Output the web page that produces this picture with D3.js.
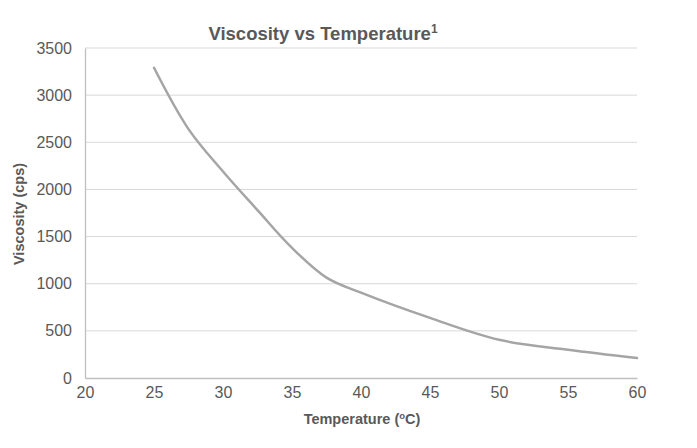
<!DOCTYPE html>
<html><head><meta charset="utf-8">
<script src="https://cdn.jsdelivr.net/npm/d3@7"></script>
<style>body{margin:0;background:#fff}svg{display:block}text{font-family:"Liberation Sans",Arial,sans-serif}</style>
</head><body><svg id="c" width="697" height="448"></svg>
<script>
const temperature = [25, 27.5, 30, 32.5, 35, 37.5, 40, 45, 50, 55, 60];
const viscosity = [3290, 2640, 2190, 1780, 1380, 1065, 905, 637, 405, 300, 212];
const xTicks = [20, 25, 30, 35, 40, 45, 50, 55, 60];
const yTicks = [0, 500, 1000, 1500, 2000, 2500, 3000, 3500];

const svg = d3.select("#c");
const m = {l: 85, r: 60, t: 48, b: 70};
const W = 697, H = 448;
const x = d3.scaleLinear().domain([20, 60]).range([m.l, W - m.r]);
const y = d3.scaleLinear().domain([0, 3500]).range([H - m.b, m.t]);

// gridlines
svg.append("g").selectAll("line").data(yTicks.filter(d => d > 0)).join("line")
  .attr("x1", x(20)).attr("x2", x(60)).attr("y1", d => y(d)).attr("y2", d => y(d))
  .attr("stroke", "#d9d9d9").attr("stroke-width", 1);

// axes
const xAxis = svg.append("g").attr("transform", `translate(0,${y(0)})`)
  .call(d3.axisBottom(x).tickValues(xTicks).tickSize(0).tickPadding(9).tickFormat(d3.format("d")));
const yAxis = svg.append("g").attr("transform", `translate(${x(20)},0)`)
  .call(d3.axisLeft(y).tickValues(yTicks).tickSize(0).tickPadding(13).tickFormat(d3.format("d")));
[xAxis, yAxis].forEach(a => {
  a.select(".domain").attr("stroke", "#bfbfbf").attr("stroke-width", 1.3);
  a.selectAll("text").attr("fill", "#595959").style("font-size", "16px").style("font-family", '"Liberation Sans", Arial, sans-serif');
});
xAxis.selectAll("text").attr("dy", "0.71em");

// line
const pts = temperature.map((t, i) => [t, viscosity[i]]);
svg.append("path").datum(pts)
  .attr("fill", "none").attr("stroke", "#a5a5a5").attr("stroke-width", 2.5).attr("stroke-linecap", "round")
  .attr("d", d3.line().x(d => x(d[0])).y(d => y(d[1])).curve(d3.curveCatmullRom.alpha(0.5)));

// title
const title = svg.append("text").attr("x", 323).attr("y", 40).attr("text-anchor", "middle")
  .attr("fill", "#595959").style("font-size", "18.5px").style("font-weight", "bold");
title.append("tspan").text("Viscosity vs Temperature");
title.append("tspan").attr("dy", "-7").style("font-size", "12px").text("1");

// x axis title
const xt = svg.append("text").attr("x", 362).attr("y", 424).attr("text-anchor", "middle")
  .attr("fill", "#595959").style("font-size", "14.5px").style("font-weight", "bold");
xt.append("tspan").text("Temperature (");
xt.append("tspan").attr("dy", "-5").style("font-size", "9.5px").text("o");
xt.append("tspan").attr("dy", "5").text("C)");

// y axis title
svg.append("text").attr("transform", `translate(24,214) rotate(-90)`).attr("text-anchor", "middle")
  .attr("fill", "#595959").style("font-size", "14.5px").style("font-weight", "bold")
  .text("Viscosity (cps)");
</script></body></html>
